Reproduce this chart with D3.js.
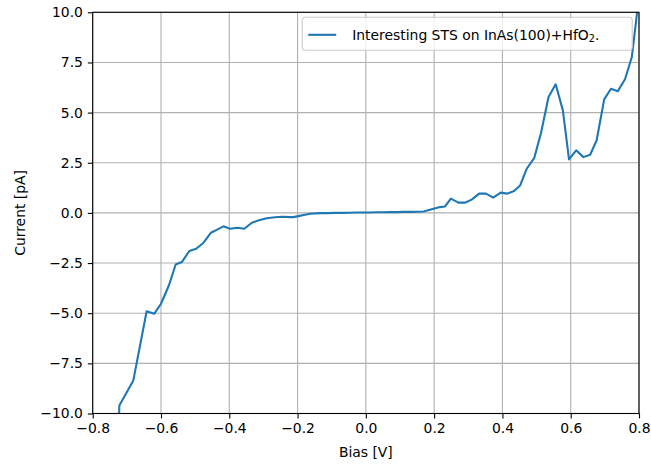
<!DOCTYPE html>
<html>
<head>
<meta charset="utf-8">
<script src="https://cdn.jsdelivr.net/npm/d3@7"></script>
<style>
  body { margin: 0; background: #fff; }
  svg { font-family: "DejaVu Sans", sans-serif; }
</style>
</head>
<body>
<div id="chart"></div>
<script>
// bias [V] and current [pA]
const bias = [-0.725, -0.722, -0.681, -0.642, -0.620, -0.600, -0.577, -0.557, -0.539, -0.517,
  -0.497, -0.476, -0.454, -0.434, -0.417, -0.398, -0.376, -0.356, -0.334, -0.313,
  -0.290, -0.266, -0.246, -0.222, -0.212, -0.198, -0.178, -0.163, -0.134, -0.110,
  -0.090, -0.070, -0.050, -0.030, -0.010, 0.010, 0.030, 0.050, 0.070, 0.090,
  0.110, 0.130, 0.150, 0.169, 0.198, 0.217, 0.232, 0.249, 0.271, 0.290,
  0.310, 0.332, 0.352, 0.373, 0.395, 0.414, 0.434, 0.452, 0.471, 0.493,
  0.513, 0.535, 0.556, 0.577, 0.595, 0.616, 0.637, 0.657, 0.676, 0.698,
  0.718, 0.738, 0.759, 0.779, 0.794, 0.800];
const current = [-12.0, -9.6, -8.35, -4.9, -5.03, -4.53, -3.62, -2.57, -2.45, -1.90,
  -1.79, -1.5, -0.99, -0.82, -0.67, -0.79, -0.74, -0.79, -0.49, -0.37,
  -0.27, -0.22, -0.19, -0.21, -0.21, -0.16, -0.09, -0.04, -0.01, -0.01,
  0.0, 0.0, 0.01, 0.02, 0.02, 0.02, 0.03, 0.03, 0.04, 0.04,
  0.05, 0.05, 0.06, 0.07, 0.21, 0.29, 0.32, 0.71, 0.51, 0.51,
  0.66, 0.96, 0.96, 0.76, 1.01, 0.96, 1.09, 1.37, 2.2, 2.73,
  3.98, 5.78, 6.41, 5.11, 2.67, 3.12, 2.78, 2.9, 3.62, 5.66,
  6.19, 6.07, 6.66, 7.77, 9.93, 10.6];
const xTicks = [-0.8, -0.6, -0.4, -0.2, 0.0, 0.2, 0.4, 0.6, 0.8];
const yTicks = [-10.0, -7.5, -5.0, -2.5, 0.0, 2.5, 5.0, 7.5, 10.0];
const seriesName = "Interesting STS on InAs(100)+HfO";

const data = bias.map((b, i) => ({ x: b, y: current[i] }));

const margin = { top: 12.3, right: 12, bottom: 50.5, left: 92.7 };
const width = 651 - margin.left - margin.right;
const height = 464 - margin.top - margin.bottom;

const svg = d3.select("#chart").append("svg")
  .attr("width", 651)
  .attr("height", 464);

const g = svg.append("g")
  .attr("transform", `translate(${margin.left}, ${margin.top})`);

const x = d3.scaleLinear().domain([-0.8, 0.8]).range([0, width]);
const y = d3.scaleLinear().domain([-10, 10]).range([height, 0]);

// grid
g.append("g").selectAll("line")
  .data(xTicks).enter().append("line")
  .attr("x1", d => x(d)).attr("x2", d => x(d))
  .attr("y1", 0).attr("y2", height)
  .attr("stroke", "#b0b0b0").attr("stroke-width", 1.1);
g.append("g").selectAll("line")
  .data(yTicks).enter().append("line")
  .attr("x1", 0).attr("x2", width)
  .attr("y1", d => y(d)).attr("y2", d => y(d))
  .attr("stroke", "#b0b0b0").attr("stroke-width", 1.1);

// line
g.append("clipPath").attr("id", "clip")
  .append("rect").attr("width", width).attr("height", height);

g.append("path")
  .datum(data)
  .attr("clip-path", "url(#clip)")
  .attr("fill", "none")
  .attr("stroke", "#1f77b4")
  .attr("stroke-width", 2.1)
  .attr("stroke-linejoin", "round")
  .attr("d", d3.line().x(d => x(d.x)).y(d => y(d.y)));

// axes
const xAxis = g.append("g")
  .attr("transform", `translate(0, ${height})`)
  .call(d3.axisBottom(x).tickValues(xTicks).tickFormat(d3.format(".1f")).tickSizeOuter(0).tickSize(4.9).tickPadding(4.9));
const yAxis = g.append("g")
  .call(d3.axisLeft(y).tickValues(yTicks).tickFormat(d3.format(".1f")).tickSizeOuter(0).tickSize(4.9).tickPadding(4.9));

[xAxis, yAxis].forEach(a => {
  a.select(".domain").remove();
  a.selectAll("text").attr("font-size", "13.9px").attr("fill", "#000").attr("font-family", "DejaVu Sans");
  a.selectAll("line").attr("stroke", "#000").attr("stroke-width", 1.1);
});

// spines
g.append("rect")
  .attr("width", width).attr("height", height)
  .attr("fill", "none").attr("stroke", "#000").attr("stroke-width", 1.1);

// axis labels
svg.append("text")
  .attr("x", margin.left + width / 2).attr("y", 457)
  .attr("text-anchor", "middle").attr("font-size", "13.9px")
  .text("Bias [V]");
svg.append("text")
  .attr("transform", `translate(25, ${margin.top + height / 2}) rotate(-90)`)
  .attr("text-anchor", "middle").attr("font-size", "13.9px")
  .text("Current [pA]");

// legend
const lg = g.append("g").attr("transform", `translate(${x(-0.8) + 209.5}, 5)`);
lg.append("rect")
  .attr("width", 330).attr("height", 33).attr("rx", 3)
  .attr("fill", "#fff").attr("fill-opacity", 0.8)
  .attr("stroke", "#cccccc").attr("stroke-width", 1.1);
lg.append("line")
  .attr("x1", 6).attr("x2", 34).attr("y1", 17.5).attr("y2", 17.5)
  .attr("stroke", "#1f77b4").attr("stroke-width", 2.1);
const lt = lg.append("text")
  .attr("x", 50).attr("y", 22.5)
  .attr("font-size", "13.9px")
  .text(seriesName);
lt.append("tspan").attr("font-size", "9.7px").attr("dy", 2.5).text("2");
lt.append("tspan").attr("dy", -2.5).text(".");
</script>
</body>
</html>
